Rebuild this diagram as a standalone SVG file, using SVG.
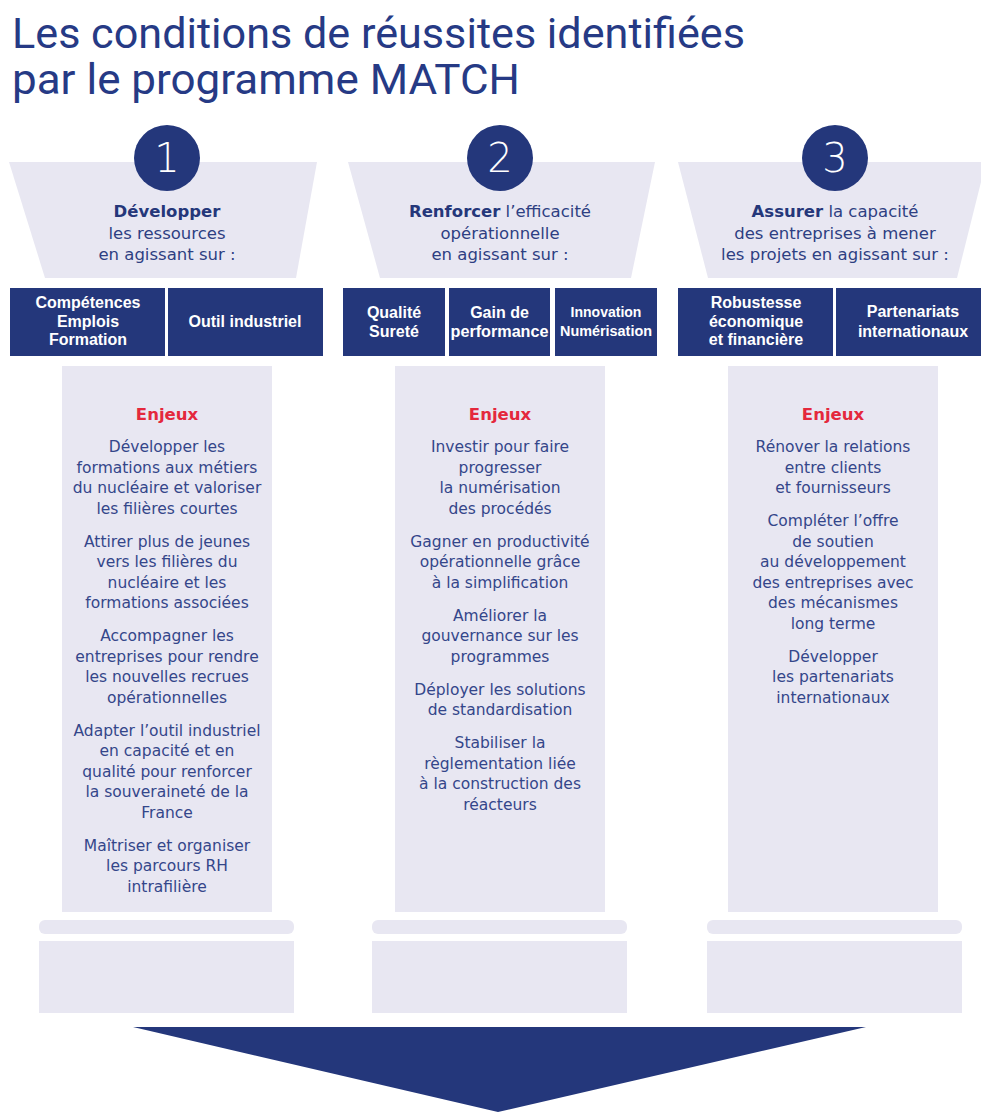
<svg xmlns="http://www.w3.org/2000/svg" width="981" height="1112" viewBox="0 0 981 1112">
<style>
.bg{fill:#e8e7f2}
.navy{fill:#24377b}
.title{font-family:Roboto,"Liberation Sans",sans-serif;font-size:42px;fill:#263a85}
.num{font-family:"DejaVu Sans",sans-serif;font-size:40px;fill:#fff;text-anchor:middle;font-weight:200}
.head{font-family:"DejaVu Sans",sans-serif;font-size:16.5px;fill:#2e3f82;text-anchor:middle}
.head tspan.b{font-weight:bold;fill:#25377a}
.box{font-family:"Liberation Sans",sans-serif;font-size:16px;font-weight:bold;fill:#fff;text-anchor:middle}
.enj{font-family:"DejaVu Sans",sans-serif;font-size:16.5px;font-weight:bold;fill:#e4283c;text-anchor:middle}
.body{font-family:"DejaVu Sans",sans-serif;font-size:15.5px;fill:#34468a;text-anchor:middle}
</style>
<rect width="981" height="1112" fill="#fff"/>
<g id="title">
<text class="title" x="12" y="48" textLength="733" lengthAdjust="spacingAndGlyphs">Les conditions de réussites identifiées</text>
<text class="title" x="12" y="94" textLength="508" lengthAdjust="spacingAndGlyphs">par le programme MATCH</text>
</g>

<g id="col1">
<polygon class="bg" points="9,162 317,162 296,278 45,278"/>
<circle class="navy" cx="167" cy="158" r="33"/>
<text class="num" x="167" y="172">1</text>
<text class="head" y="217"><tspan class="b" x="167">Développer</tspan><tspan x="167" dy="21.5">les ressources</tspan><tspan x="167" dy="21.5">en agissant sur :</tspan></text>
<rect class="navy" x="10" y="288" width="155" height="68"/>
<rect class="navy" x="168" y="288" width="155" height="68"/>
<text class="box" y="308"><tspan x="88">Compétences</tspan><tspan x="88" dy="18.5">Emplois</tspan><tspan x="88" dy="18.5">Formation</tspan></text>
<text class="box" x="245" y="327">Outil industriel</text>
<rect class="bg" x="62" y="366" width="210" height="546"/>
<text class="enj" x="167" y="420">Enjeux</text>
<text class="body" y="452"><tspan x="167">Développer les</tspan><tspan x="167" dy="20.5">formations aux métiers</tspan><tspan x="167" dy="20.5">du nucléaire et valoriser</tspan><tspan x="167" dy="20.5">les filières courtes</tspan><tspan x="167" dy="33">Attirer plus de jeunes</tspan><tspan x="167" dy="20.5">vers les filières du</tspan><tspan x="167" dy="20.5">nucléaire et les</tspan><tspan x="167" dy="20.5">formations associées</tspan><tspan x="167" dy="33">Accompagner les</tspan><tspan x="167" dy="20.5">entreprises pour rendre</tspan><tspan x="167" dy="20.5">les nouvelles recrues</tspan><tspan x="167" dy="20.5">opérationnelles</tspan><tspan x="167" dy="33">Adapter l’outil industriel</tspan><tspan x="167" dy="20.5">en capacité et en</tspan><tspan x="167" dy="20.5">qualité pour renforcer</tspan><tspan x="167" dy="20.5">la souveraineté de la</tspan><tspan x="167" dy="20.5">France</tspan><tspan x="167" dy="33">Maîtriser et organiser</tspan><tspan x="167" dy="20.5">les parcours RH</tspan><tspan x="167" dy="20.5">intrafilière</tspan></text>
<rect class="bg" x="39" y="920" width="255" height="14" rx="6"/>
<rect class="bg" x="39" y="941" width="255" height="72"/>
</g>

<g id="col2">
<polygon class="bg" points="348,162 655,162 631,278 380,278"/>
<circle class="navy" cx="500" cy="158" r="33"/>
<text class="num" x="500" y="172">2</text>
<text class="head" y="217"><tspan x="500"><tspan class="b">Renforcer</tspan> l’efficacité</tspan><tspan x="500" dy="21.5">opérationnelle</tspan><tspan x="500" dy="21.5">en agissant sur :</tspan></text>
<rect class="navy" x="343" y="288" width="102" height="68"/>
<rect class="navy" x="449" y="288" width="101" height="68"/>
<rect class="navy" x="555" y="288" width="102" height="68"/>
<text class="box" y="318"><tspan x="394">Qualité</tspan><tspan x="394" dy="19">Sureté</tspan></text>
<text class="box" y="318"><tspan x="499.5">Gain de</tspan><tspan x="499.5" dy="19" textLength="98" lengthAdjust="spacingAndGlyphs">performance</tspan></text>
<text class="box" style="font-size:14px" y="317"><tspan x="606">Innovation</tspan><tspan x="606" dy="19" textLength="92" lengthAdjust="spacingAndGlyphs">Numérisation</tspan></text>
<rect class="bg" x="395" y="366" width="210" height="546"/>
<text class="enj" x="500" y="420">Enjeux</text>
<text class="body" y="452"><tspan x="500">Investir pour faire</tspan><tspan x="500" dy="20.5">progresser</tspan><tspan x="500" dy="20.5">la numérisation</tspan><tspan x="500" dy="20.5">des procédés</tspan><tspan x="500" dy="33">Gagner en productivité</tspan><tspan x="500" dy="20.5">opérationnelle grâce</tspan><tspan x="500" dy="20.5">à la simplification</tspan><tspan x="500" dy="33">Améliorer la</tspan><tspan x="500" dy="20.5">gouvernance sur les</tspan><tspan x="500" dy="20.5">programmes</tspan><tspan x="500" dy="33">Déployer les solutions</tspan><tspan x="500" dy="20.5">de standardisation</tspan><tspan x="500" dy="33">Stabiliser la</tspan><tspan x="500" dy="20.5">règlementation liée</tspan><tspan x="500" dy="20.5">à la construction des</tspan><tspan x="500" dy="20.5">réacteurs</tspan></text>
<rect class="bg" x="372" y="920" width="255" height="14" rx="6"/>
<rect class="bg" x="372" y="941" width="255" height="72"/>
</g>

<g id="col3">
<polygon class="bg" points="678,162 986,162 957,278 708,278"/>
<circle class="navy" cx="835" cy="158" r="33"/>
<text class="num" x="835" y="172">3</text>
<text class="head" y="217"><tspan x="835"><tspan class="b">Assurer</tspan> la capacité</tspan><tspan x="835" dy="21.5">des entreprises à mener</tspan><tspan x="835" dy="21.5">les projets en agissant sur :</tspan></text>
<rect class="navy" x="678" y="288" width="155" height="68"/>
<rect class="navy" x="836" y="288" width="150" height="68"/>
<text class="box" y="308"><tspan x="756">Robustesse</tspan><tspan x="756" dy="18.5">économique</tspan><tspan x="756" dy="18.5">et financière</tspan></text>
<text class="box" y="317"><tspan x="913">Partenariats</tspan><tspan x="913" dy="20">internationaux</tspan></text>
<rect class="bg" x="728" y="366" width="210" height="546"/>
<text class="enj" x="833" y="420">Enjeux</text>
<text class="body" y="452"><tspan x="833">Rénover la relations</tspan><tspan x="833" dy="20.5">entre clients</tspan><tspan x="833" dy="20.5">et fournisseurs</tspan><tspan x="833" dy="33">Compléter l’offre</tspan><tspan x="833" dy="20.5">de soutien</tspan><tspan x="833" dy="20.5">au développement</tspan><tspan x="833" dy="20.5">des entreprises avec</tspan><tspan x="833" dy="20.5">des mécanismes</tspan><tspan x="833" dy="20.5">long terme</tspan><tspan x="833" dy="33">Développer</tspan><tspan x="833" dy="20.5">les partenariats</tspan><tspan x="833" dy="20.5">internationaux</tspan></text>
<rect class="bg" x="707" y="920" width="255" height="14" rx="6"/>
<rect class="bg" x="707" y="941" width="255" height="72"/>
</g>

<g id="connectors">
<polygon class="navy" points="133,1027 866,1027 498,1112"/>
</g>
</svg>
